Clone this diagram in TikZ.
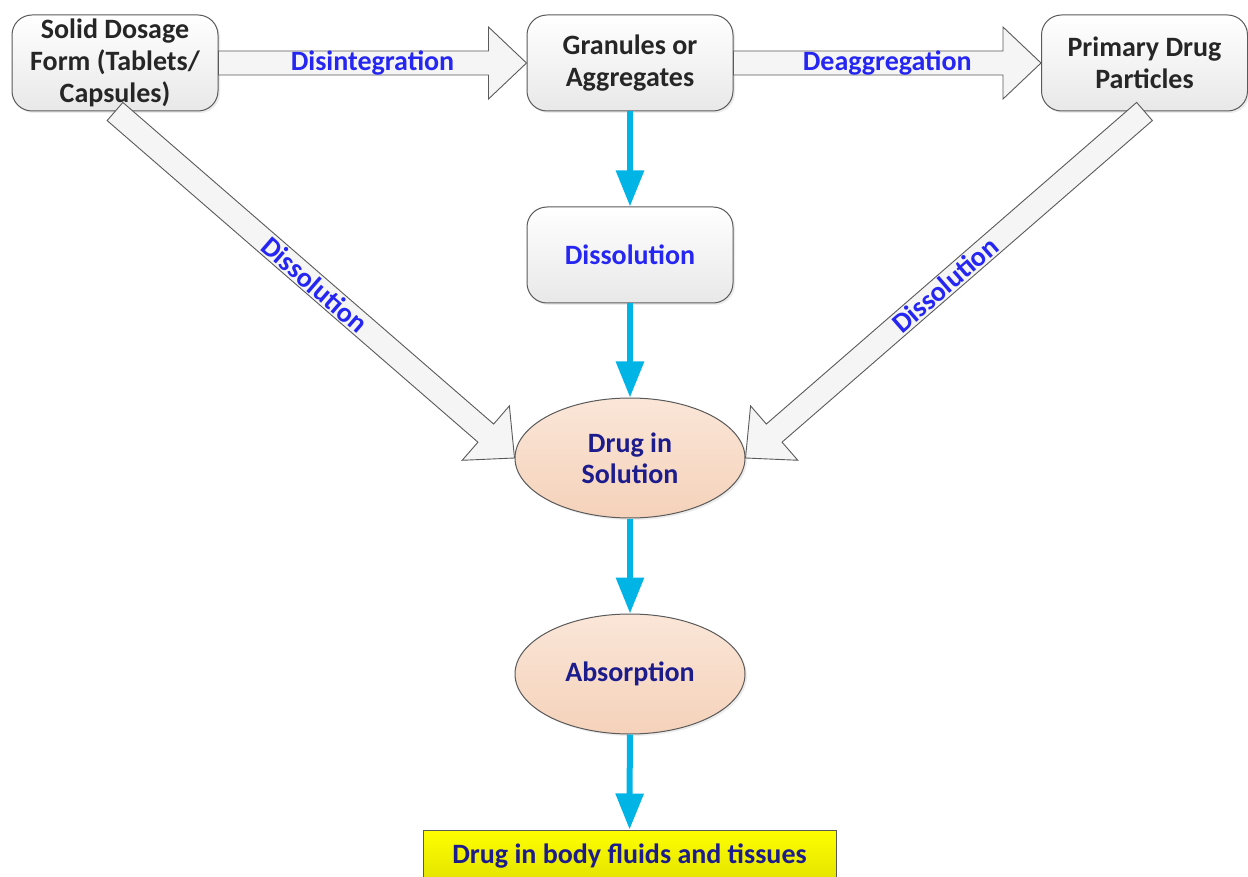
\documentclass[tikz,border=0pt]{standalone}
\usepackage{fontspec}
\setmainfont{Carlito}
\usetikzlibrary{shapes.geometric,arrows.meta,calc,shadows}
\definecolor{boxtext}{HTML}{262626}
\definecolor{lblblue}{HTML}{2626F2}
\definecolor{navy}{HTML}{1C1C8C}
\definecolor{cyanarr}{HTML}{00B4E6}
\definecolor{edge}{HTML}{5A5A5A}
\definecolor{peachtop}{HTML}{FAE6D8}
\definecolor{peachbot}{HTML}{F5D2BA}
\definecolor{yeltop}{HTML}{FFFF00}
\definecolor{yelbot}{HTML}{E2E200}
\newcommand\blockarrow[2]{%
  \coordinate (bah) at ($(#2)!38pt!(#1)$);
  \path[blockarr] ($(#1)!12pt!90:(#2)$) -- ($(bah)!12pt!-90:(#1)$) -- ($(bah)!36pt!-90:(#1)$) -- (#2) -- ($(bah)!36pt!90:(#1)$) -- ($(bah)!12pt!90:(#1)$) -- ($(#1)!12pt!-90:(#2)$) -- cycle;}
\begin{document}
\begin{tikzpicture}[x=1pt,y=-1pt,
  txt/.style={font=\fontsize{28}{32}\selectfont\bfseries, align=center},
  rbox/.style={txt, draw=edge, line width=1pt, rounded corners=20pt, minimum width=206pt, minimum height=96pt, inner sep=0pt, top color=white, bottom color=black!9, text=boxtext, drop shadow={shadow xshift=2pt,shadow yshift=-2pt,opacity=0.15}},
  oval/.style={txt, ellipse, draw=edge, line width=1pt, minimum width=230pt, minimum height=120pt, inner sep=0pt, top color=peachtop, bottom color=peachbot, text=navy, font=\fontsize{28}{31}\selectfont\bfseries, drop shadow={shadow xshift=2pt,shadow yshift=-2pt,opacity=0.15}},
  ybox/.style={txt, draw=edge, line width=1pt, minimum width=413pt, minimum height=52pt, inner sep=0pt, top color=yeltop, bottom color=yelbot, text=navy},
  blockarr/.style={draw=edge, line width=0.9pt, fill=black!4, line join=miter},
  lbl/.style={txt, text=lblblue, inner sep=0pt},
  flow/.style={draw=cyanarr, line width=6pt, -{Triangle[width=27pt,length=36pt]}}
]
\useasboundingbox (0,0) rectangle (1248,877);
\fill[white] (0,0) rectangle (1248,877);
\clip (0,0) rectangle (1248,877);

\node[rbox] (solid) at (115,63) {Solid Dosage\\Form (Tablets/\\Capsules)};
\node[rbox] (gran) at (630,63) {Granules or\\Aggregates};
\node[rbox] (prim) at (1144.5,63) {Primary Drug\\Particles};
\node[rbox,text=lblblue] (diss) at (630,255) {Dissolution};
\node[oval] (sol) at (630,458) {Drug in\\Solution};
\node[oval] (abs) at (630,674) {Absorption};
\node[ybox] (fluids) at (629.5,856) {Drug in body fluids and tissues};

\blockarrow{solid.east}{gran.west}
\path (solid.east) -- (gran.west) node[midway,lbl] {Disintegration};
\blockarrow{gran.east}{prim.west}
\path (gran.east) -- (prim.west) node[midway,lbl] {Deaggregation};
\blockarrow{solid.south}{sol.west}
\path (solid.south) -- (sol.west) node[midway,sloped,lbl] {Dissolution};
\blockarrow{prim.south}{sol.east}
\path (prim.south) -- (sol.east) node[midway,sloped,lbl] {Dissolution};

\draw[flow] (gran) -- (diss);
\draw[flow] (diss) -- (sol);
\draw[flow] (sol) -- (abs);
\draw[flow] (abs) -- (fluids);
\end{tikzpicture}
\end{document}
